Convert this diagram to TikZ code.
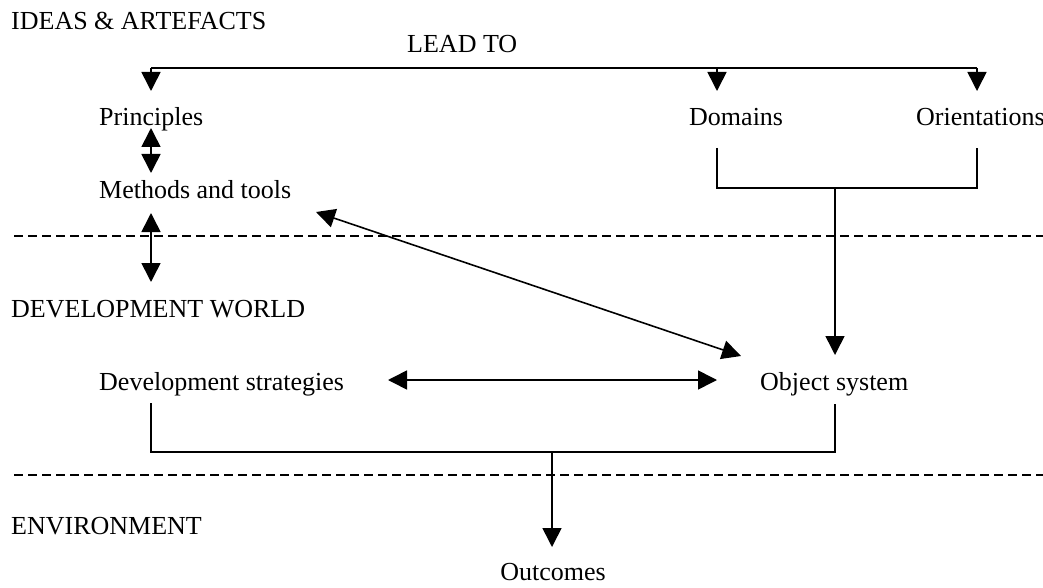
\documentclass[tikz,border=0pt]{standalone}
\usepackage{fontspec}
\setmainfont{Liberation Serif}
\usetikzlibrary{arrows.meta}
\begin{document}
\begin{tikzpicture}[x=1pt,y=-1pt,
  label text/.style={anchor=base west,inner sep=0pt,font=\fontsize{26}{30}\selectfont},
  link/.style={line width=1.6pt},
  tip/.style={link,-{Triangle[length=19pt,width=19pt]}},
  twoway/.style={link,{Triangle[length=19pt,width=19pt]}-{Triangle[length=19pt,width=19pt]}},
  divider/.style={line width=1.5pt,dash pattern=on 9pt off 5pt}]
\useasboundingbox (0,0) rectangle (1043,588);

% section headings
\node[label text] (ideas) at (11,30) {IDEAS \& ARTEFACTS};
\node[label text] (devworld) at (11,317) {DEVELOPMENT WORLD};
\node[label text] (env) at (11,534) {ENVIRONMENT};
\node[label text] (lead) at (407,53) {LEAD TO};

% concepts
\node[label text] (prin) at (99,126) {Principles};
\node[label text] (dom) at (689,126) {Domains};
\node[label text] (orient) at (916,126) {Orientations};
\node[label text] (meth) at (99,198) {Methods and tools};
\node[label text] (strat) at (99,390) {Development strategies};
\node[label text] (obj) at (760,390) {Object system};
\node[label text,anchor=base] (out) at (553,580) {Outcomes};

% dividing lines
\coordinate (divA-l) at (14,236);
\coordinate (divA-r) at (1043,236);
\coordinate (divB-l) at (14,475);
\coordinate (divB-r) at (1043,475);
\draw[divider] (divA-l) -- (divA-r);
\draw[divider] (divB-l) -- (divB-r);

% "lead to" distribution bracket
\coordinate (lt-l) at (151,68);
\coordinate (lt-m) at (717,68);
\coordinate (lt-r) at (977,68);
\coordinate (prin-in) at (151,91);
\coordinate (dom-in) at (717,91);
\coordinate (orient-in) at (977,91);
\draw[link] (lt-l) -- (lt-r);
\draw[tip] (lt-l) -- (prin-in);
\draw[tip] (lt-m) -- (dom-in);
\draw[tip] (lt-r) -- (orient-in);

% principles <-> methods <-> development world
\coordinate (pm-a) at (151,128);
\coordinate (pm-b) at (151,173);
\draw[twoway] (pm-a) -- (pm-b);
\coordinate (md-a) at (151,213);
\coordinate (md-b) at (151,282);
\draw[twoway] (md-a) -- (md-b);

% domains and orientations joined into the object system
\coordinate (dom-out) at (717,148);
\coordinate (orient-out) at (977,148);
\coordinate (do-l) at (717,188);
\coordinate (do-r) at (977,188);
\coordinate (do-m) at (835,188);
\coordinate (obj-in) at (835,355);
\draw[link] (dom-out) -- (do-l) -- (do-r) -- (orient-out);
\draw[tip] (do-m) -- (obj-in);

% methods <-> object system
\coordinate (mo-a) at (316,212);
\coordinate (mo-b) at (741,356);
\draw[twoway] (mo-a) -- (mo-b);

% strategies <-> object system
\coordinate (so-a) at (388,380);
\coordinate (so-b) at (717,380);
\draw[twoway] (so-a) -- (so-b);

% strategies and object system joined into outcomes
\coordinate (strat-out) at (151,403);
\coordinate (obj-out) at (835,404);
\coordinate (so-l) at (151,452);
\coordinate (so-r) at (835,452);
\coordinate (so-m) at (552,452);
\coordinate (out-in) at (552,547);
\draw[link] (strat-out) -- (so-l) -- (so-r) -- (obj-out);
\draw[tip] (so-m) -- (out-in);
\end{tikzpicture}
\end{document}
